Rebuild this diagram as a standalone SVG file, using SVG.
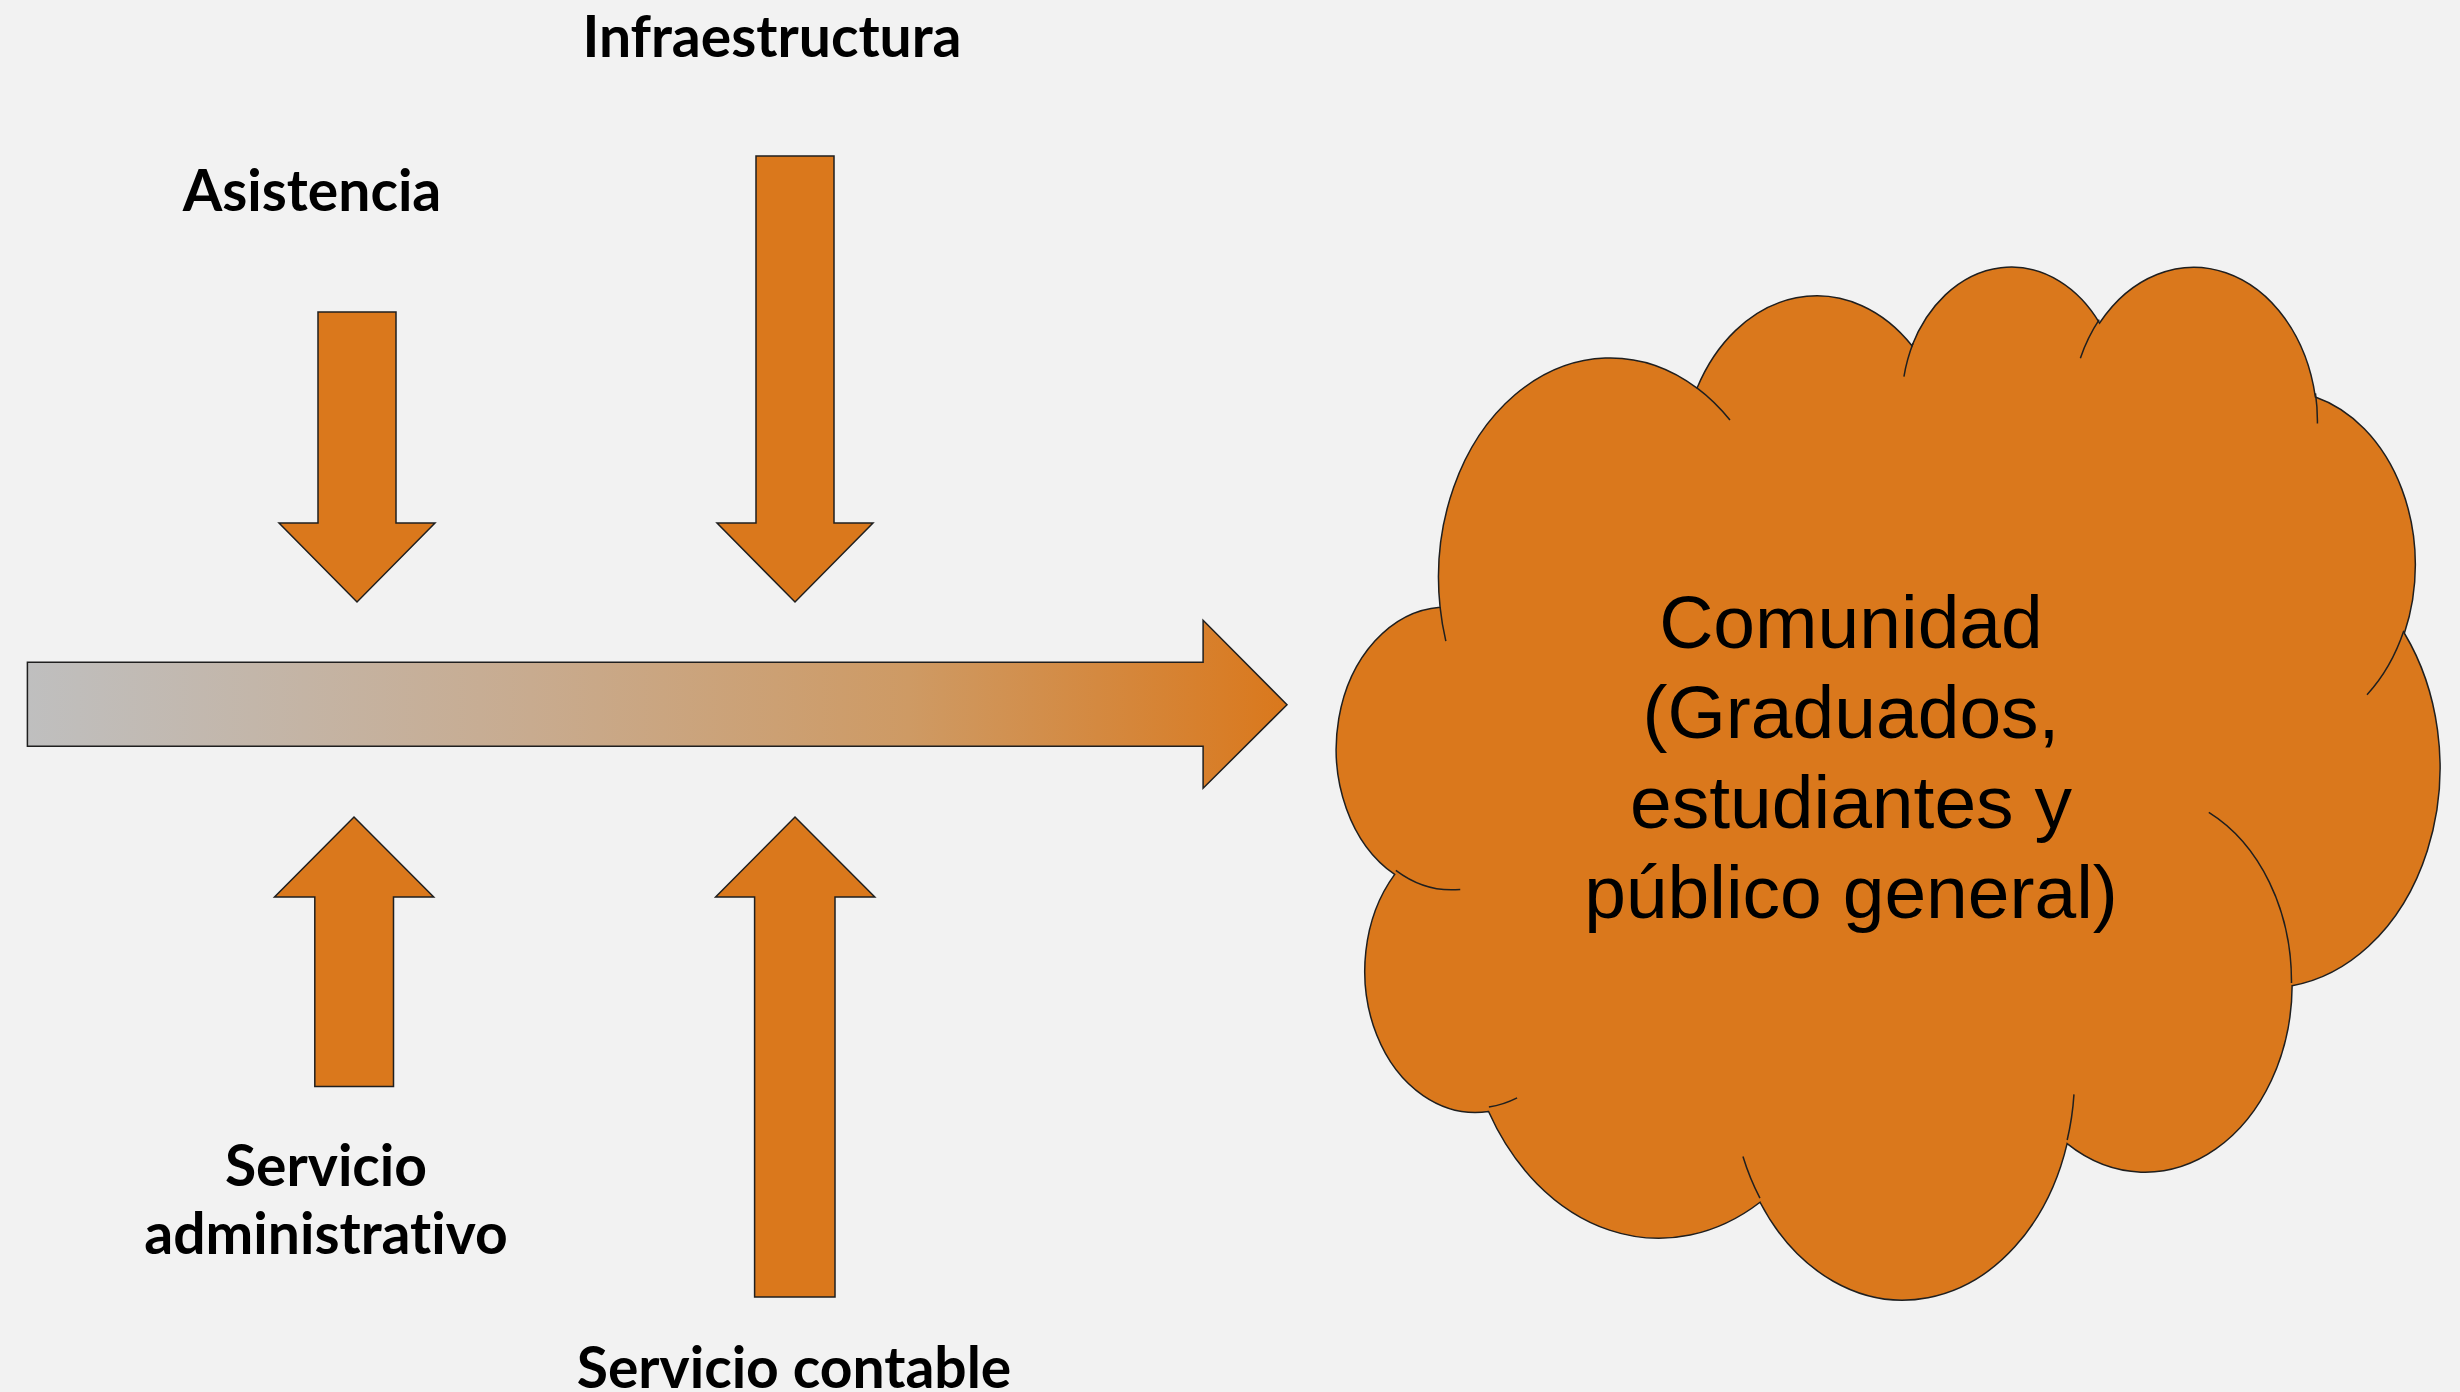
<svg xmlns="http://www.w3.org/2000/svg" width="2460" height="1392" viewBox="0 0 2460 1392">
  <style>
    .blk { fill: #DA781C; stroke: #1f1f1f; stroke-width: 1.5; stroke-linejoin: miter; }
    .cloud { fill: #DA781C; stroke: #1f1f1f; stroke-width: 1.5; vector-effect: non-scaling-stroke; }
    .inner { fill: none; stroke: #1f1f1f; stroke-width: 1.5; vector-effect: non-scaling-stroke; }
    .lbl { font-family: Lato, "Liberation Sans", sans-serif; font-weight: bold; font-size: 57px; fill: #000; text-anchor: middle; font-variant-ligatures: none; font-feature-settings: "liga" 0, "clig" 0, "dlig" 0; }
    .ctext { font-family: "Liberation Sans", Arial, sans-serif; font-size: 75px; fill: #000; text-anchor: middle; }
  </style>
  <defs>
    <linearGradient id="flow" gradientUnits="userSpaceOnUse" x1="27" y1="0" x2="1287" y2="0">
      <stop offset="0" stop-color="#BFBFBF"/>
      <stop offset="0.4" stop-color="#C8AB8F"/>
      <stop offset="0.7" stop-color="#CE9A64"/>
      <stop offset="1" stop-color="#DA781C"/>
    </linearGradient>
  </defs>
  <rect x="0" y="0" width="2460" height="1392" fill="#F2F2F2"/>

  <g id="connectors">
    <path id="main-arrow" d="M27.4 662.3 H1203.1 V620.3 L1287 704.7 L1203.1 788.3 V746.3 H27.4 Z" fill="url(#flow)" stroke="#1f1f1f" stroke-width="1.5"/>
  </g>

  <g id="node-asistencia">
    <path class="blk" d="M318 312 H396 V523 H435 L357 602 L279 523 H318 Z"/>
    <text class="lbl" x="312" y="211">Asistencia</text>
  </g>

  <g id="node-infraestructura">
    <path class="blk" d="M756 156 H834 V523 H873 L795 602 L717 523 H756 Z"/>
    <text class="lbl" x="772" y="57">Infraestructura</text>
  </g>

  <g id="node-servicio-administrativo">
    <path class="blk" d="M354 817 L433.7 897 H393.5 V1086.5 H314.8 V897 H274.5 Z"/>
    <text class="lbl" x="326" y="1186">Servicio</text>
    <text class="lbl" x="326" y="1254">administrativo</text>
  </g>

  <g id="node-servicio-contable">
    <path class="blk" d="M795 817 L874.8 897 H835 V1297 H754.6 V897 H715.6 Z"/>
    <text class="lbl" x="794" y="1388">Servicio contable</text>
  </g>

  <g id="node-comunidad">
    <g transform="translate(1340.9 263.7) scale(0.02543 0.023903)">
      <path class="cloud" d="M3900 14370 A6753 9190 0 0 1 14005.6 5202.4 A5333 7267 0 0 1 22456.3 3432.2 A4365 5945 0 0 1 29833.9 2481.7 A4857 6595 0 0 1 38319.4 5576.8 A5333 7273 0 0 1 41819.8 15460.5 A6775 9220 0 0 1 37405.9 30203.9 A5785 7867 0 0 1 28557.5 36814.1 A6752 9215 0 0 1 16481.9 39264.7 A7720 10543 0 0 1 5806.6 35471.1 A4360 5918 0 0 1 2115.3 25549.4 A4345 5945 0 0 1 3900 14370 Z"/>
      <path class="inner" d="M4693 26177 A4345 5945 0 0 1 2159.9 25380.1 M6928 34899 A4360 5918 0 0 1 5819.7 35280.4 M16478 39090 A6752 9215 0 0 1 15810.3 37350.1 M28827 34751 A6752 9215 0 0 1 28560.4 36660.4 M34129 22954 A5785 7867 0 0 1 37380.4 30089.5 M41798 15354 A5333 7273 0 0 1 40350.2 18029.7 M38324 5426 A4857 6595 0 0 1 38400.4 6689.1 M29078 3952 A4857 6595 0 0 1 29819.4 2340.4 M22141 4720 A4365 5945 0 0 1 22500.2 3330.3 M14000 5192 A6753 9190 0 0 1 15299.4 6540 M4127 15789 A6753 9190 0 0 1 3900.2 14370.1"/>
    </g>
    <text class="ctext" x="1851" y="648">Comunidad</text>
    <text class="ctext" x="1851" y="738">(Graduados,</text>
    <text class="ctext" x="1851" y="828">estudiantes y</text>
    <text class="ctext" x="1851" y="918">público general)</text>
  </g>
</svg>
